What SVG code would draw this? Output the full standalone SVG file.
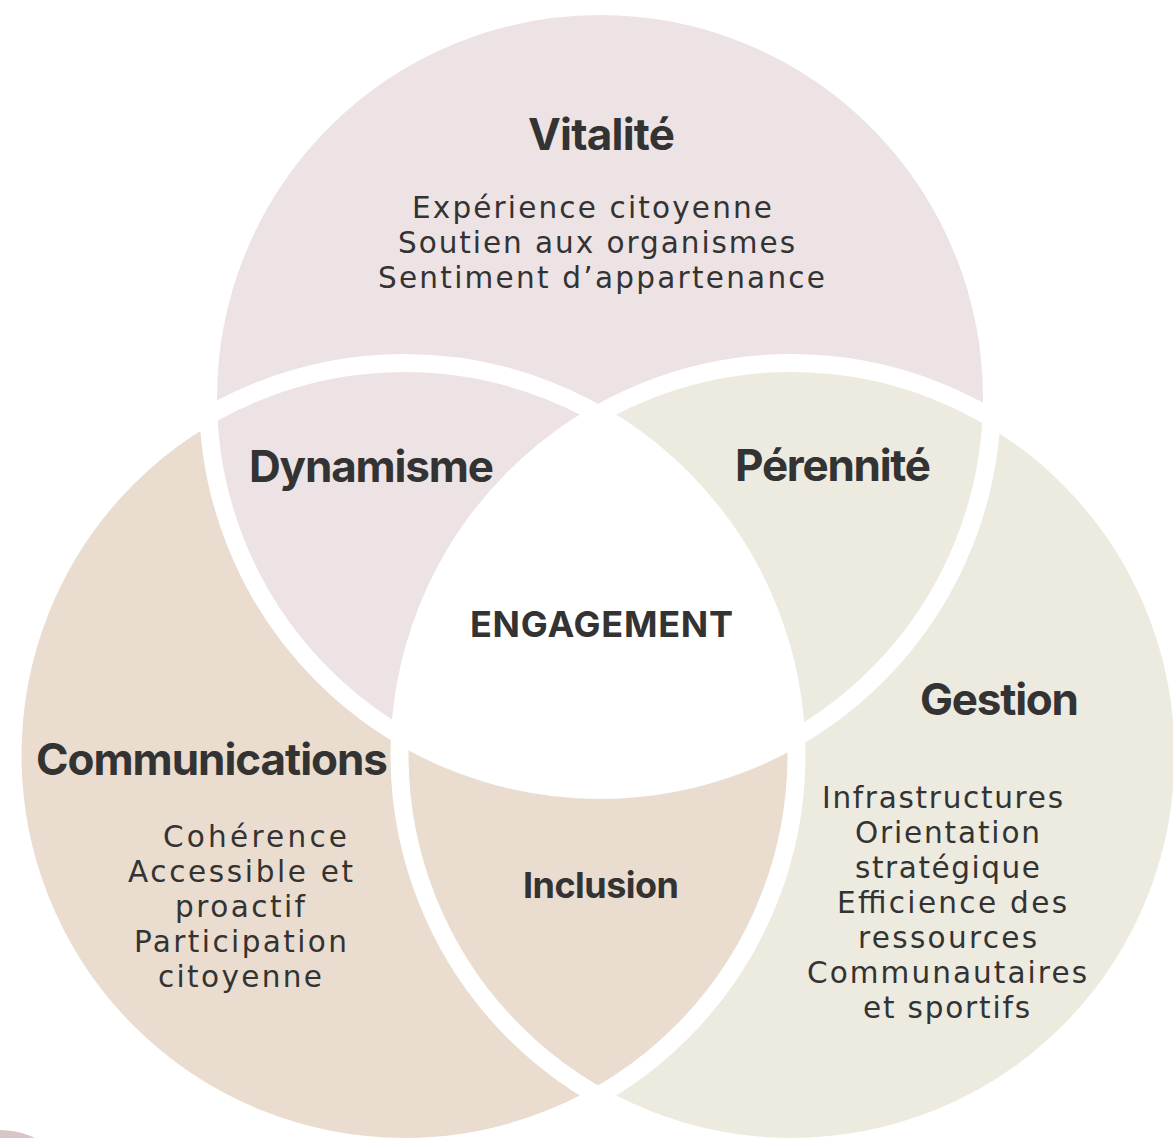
<svg xmlns="http://www.w3.org/2000/svg" width="1173" height="1138" viewBox="0 0 1173 1138">
  <style>
    .h { font-family: Inter, "Liberation Sans", Arial, sans-serif; font-weight: 700; font-size: 44px; fill: #333333; text-anchor: middle; }
    .m { font-family: Inter, "Liberation Sans", Arial, sans-serif; font-weight: 700; font-size: 36px; fill: #333333; text-anchor: middle; }
    .b { font-family: "DejaVu Sans", "Liberation Sans", Arial, sans-serif; font-weight: 400; font-size: 29.5px; fill: #333333; text-anchor: middle; }
    .pink { fill: #EEE3E4; }
    .tan { fill: #EADDCF; }
    .beige { fill: #EDEAE0; }
    .outline { fill: none; stroke: #FFFFFF; stroke-width: 18; }
  </style>
  <defs>
    <clipPath id="clipT"><circle cx="600" cy="398" r="392"/></clipPath>
    <clipPath id="clipL"><circle cx="404.5" cy="755" r="392"/></clipPath>
    <clipPath id="clipR"><circle cx="791.5" cy="755" r="392"/></clipPath>
  </defs>
  <rect width="1173" height="1138" fill="#FFFFFF"/>

  <g id="node-gestion">
    <circle class="beige" cx="791.5" cy="755" r="392"/>
    <text class="h" x="999.5" y="715" textLength="159" lengthAdjust="spacing">Gestion</text>
    <text class="b" x="942.5" y="808" textLength="241" lengthAdjust="spacing">Infrastructures</text>
    <text class="b" x="947.5" y="843" textLength="185" lengthAdjust="spacing">Orientation</text>
    <text class="b" x="947.5" y="878" textLength="185" lengthAdjust="spacing">stratégique</text>
    <text class="b" x="952" y="913" textLength="230" lengthAdjust="spacing">Efficience des</text>
    <text class="b" x="947.5" y="948" textLength="179" lengthAdjust="spacing">ressources</text>
    <text class="b" x="947" y="983" textLength="280" lengthAdjust="spacing">Communautaires</text>
    <text class="b" x="946.5" y="1018" textLength="167" lengthAdjust="spacing">et sportifs</text>
  </g>

  <g id="node-communications">
    <circle class="tan" cx="404.5" cy="755" r="392"/>
    <text class="h" x="212" y="775" textLength="352" lengthAdjust="spacing">Communications</text>
    <text class="b" x="255" y="847" textLength="184" lengthAdjust="spacing">Cohérence</text>
    <text class="b" x="240.5" y="882" textLength="225" lengthAdjust="spacing">Accessible et</text>
    <text class="b" x="240" y="917" textLength="130" lengthAdjust="spacing">proactif</text>
    <text class="b" x="240.5" y="952" textLength="213" lengthAdjust="spacing">Participation</text>
    <text class="b" x="240" y="987" textLength="164" lengthAdjust="spacing">citoyenne</text>
  </g>

  <g id="node-vitalite">
    <circle class="pink" cx="600" cy="398" r="392"/>
    <text class="h" x="601.5" y="150" textLength="147" lengthAdjust="spacing">Vitalité</text>
    <text class="b" x="592" y="218" textLength="360" lengthAdjust="spacing">Expérience citoyenne</text>
    <text class="b" x="596.5" y="253" textLength="397" lengthAdjust="spacing">Soutien aux organismes</text>
    <text class="b" x="601.5" y="288" textLength="447" lengthAdjust="spacing">Sentiment d’appartenance</text>
  </g>

  <g id="node-dynamisme">
    <circle class="pink" cx="600" cy="398" r="392" clip-path="url(#clipL)"/>
    <text class="h" x="371.5" y="482" textLength="245" lengthAdjust="spacing">Dynamisme</text>
  </g>

  <g id="node-perennite">
    <circle class="beige" cx="791.5" cy="755" r="392" clip-path="url(#clipT)"/>
    <text class="h" x="833" y="481" textLength="196" lengthAdjust="spacing">Pérennité</text>
  </g>

  <g id="node-inclusion">
    <circle class="tan" cx="404.5" cy="755" r="392" clip-path="url(#clipR)"/>
  </g>

  <g id="node-engagement">
    <g clip-path="url(#clipL)">
      <circle cx="791.5" cy="755" r="392" fill="#FFFFFF" clip-path="url(#clipT)"/>
    </g>
  </g>

  <g id="outlines">
    <circle class="outline" cx="791.5" cy="755" r="392"/>
    <circle class="outline" cx="404.5" cy="755" r="392"/>
    <circle class="outline" cx="600" cy="398" r="392"/>
  </g>

  <g id="labels">
    <text class="m" x="601.5" y="637" textLength="263" lengthAdjust="spacing">ENGAGEMENT</text>
    <text class="m" x="601" y="898" textLength="156" lengthAdjust="spacing">Inclusion</text>
  </g>

  <g id="connectors"/>

  <g id="corner-decoration">
    <circle cx="0" cy="1210" r="80" fill="#D9C4C6"/>
  </g>
</svg>
